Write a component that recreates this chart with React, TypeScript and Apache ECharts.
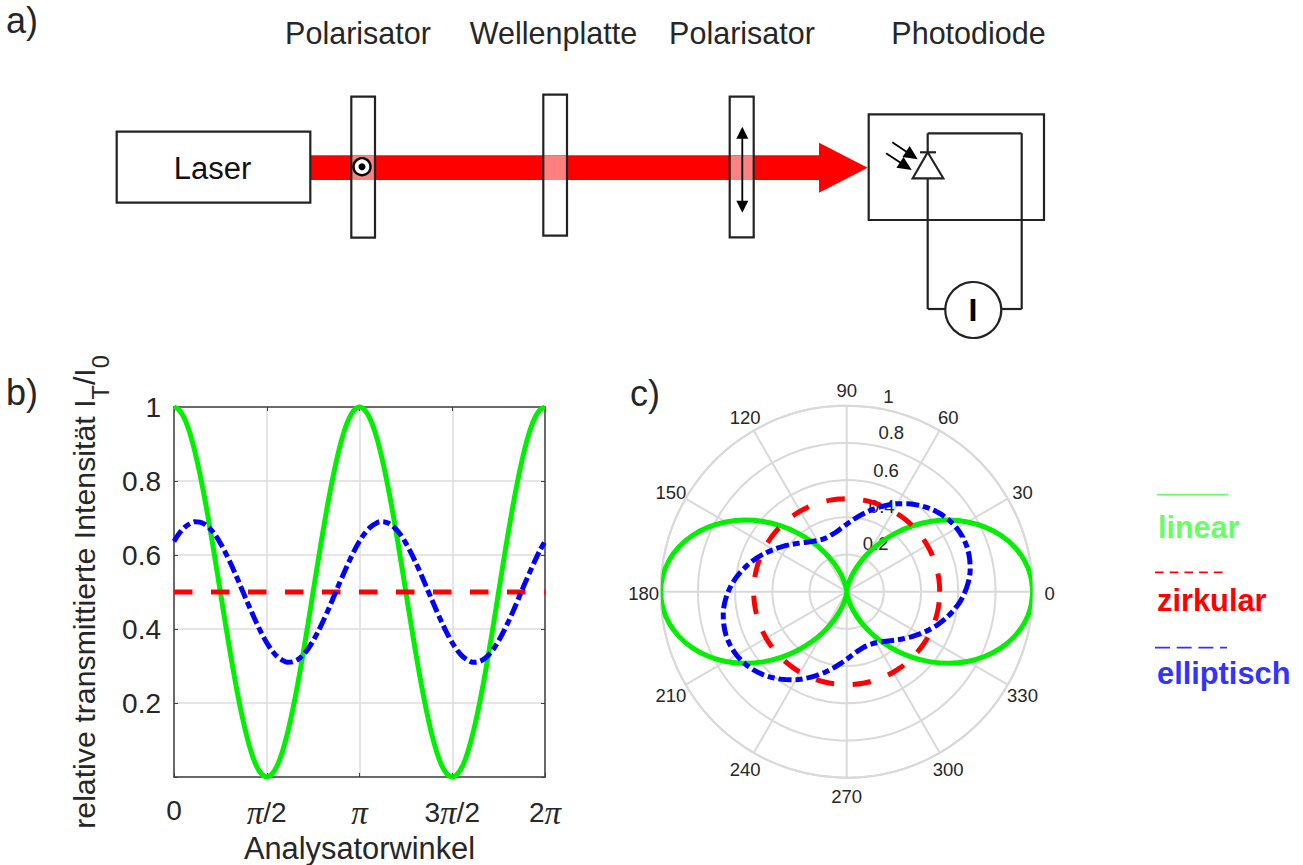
import React, { useEffect, useRef } from "react";
import * as echarts from "echarts";

const angles = [0,5,10,15,20,25,30,35,40,45,50,55,60,65,70,75,80,85,90,95,100,105,110,115,120,125,130,135,140,145,150,155,160,165,170,175,180,185,190,195,200,205,210,215,220,225,230,235,240,245,250,255,260,265,270,275,280,285,290,295,300,305,310,315,320,325,330,335,340,345,350,355,360];
const linearValues = [1,.992,.97,.933,.883,.821,.75,.671,.587,.5,.413,.329,.25,.179,.117,.067,.03,.008,0,.008,.03,.067,.117,.179,.25,.329,.413,.5,.587,.671,.75,.821,.883,.933,.97,.992,1,.992,.97,.933,.883,.821,.75,.671,.587,.5,.413,.329,.25,.179,.117,.067,.03,.008,0,.008,.03,.067,.117,.179,.25,.329,.413,.5,.587,.671,.75,.821,.883,.933,.97,.992,1];
const circularValues = [.5,.5,.5,.5,.5,.5,.5,.5,.5,.5,.5,.5,.5,.5,.5,.5,.5,.5,.5,.5,.5,.5,.5,.5,.5,.5,.5,.5,.5,.5,.5,.5,.5,.5,.5,.5,.5,.5,.5,.5,.5,.5,.5,.5,.5,.5,.5,.5,.5,.5,.5,.5,.5,.5,.5,.5,.5,.5,.5,.5,.5,.5,.5,.5,.5,.5,.5,.5,.5,.5,.5,.5,.5];
const ellipticValues = [.637,.658,.674,.684,.69,.689,.683,.671,.654,.632,.606,.577,.546,.513,.48,.448,.417,.388,.363,.342,.326,.316,.31,.311,.317,.329,.346,.368,.394,.423,.454,.487,.52,.552,.583,.612,.637,.658,.674,.684,.69,.689,.683,.671,.654,.632,.606,.577,.546,.513,.48,.448,.417,.388,.363,.342,.326,.316,.31,.311,.317,.329,.346,.368,.394,.423,.454,.487,.52,.552,.583,.612,.637];
const xTickLabels = ["0", "{p|π}/2", "{p|π}", "3{p|π}/2", "2{p|π}"];
const angleTicks = [0, 30, 60, 90, 120, 150, 180, 210, 240, 270, 300, 330];
const radiusLabels = ["0.2", "0.4", "0.6", "0.8", "1"];
const radiusLabelX = [875.7, 881.7, 886, 891.3, 888.3];
const radiusLabelY = [543.3, 506.7, 470, 432.7, 396];
const componentLabels = ["Polarisator", "Wellenplatte", "Polarisator", "Photodiode"];
const componentLabelX = [358, 553.5, 742, 968.5];
const legendNames = ["linear", "zirkular", "elliptisch"];

const GREEN = "#00f000";
const RED = "#ff0000";
const BLUE = "#0000ff";
const TEXT = "#262626";
const FONT = "'Liberation Sans', Arial, sans-serif";
const BLK = "#222222";

function rect(x: number, y: number, w: number, h: number, fill = "transparent", stroke: string | null = BLK, lw = 2.2) {
  return { type: "rect", shape: { x, y, width: w, height: h }, style: { fill, stroke: stroke ?? "transparent", lineWidth: stroke ? lw : 0 } };
}
function line(x1: number, y1: number, x2: number, y2: number, lw = 2.2, stroke = BLK, lineDash?: number[]) {
  return { type: "line", shape: { x1, y1, x2, y2 }, style: { stroke, lineWidth: lw, lineDash } };
}
function poly(points: number[][], fill: string, stroke = "transparent", lw = 0) {
  return { type: "polygon", shape: { points }, style: { fill, stroke, lineWidth: lw } };
}
function text(t: string, x: number, y: number, size: number, extra: any = {}) {
  return { type: "text", x, y, style: { text: t, font: `${extra.weight ?? "normal"} ${size}px ${FONT}`, fill: extra.fill ?? TEXT, textAlign: extra.align ?? "center", textVerticalAlign: "middle" }, z: extra.z ?? 1 };
}
function arrowHead(x1: number, y1: number, x2: number, y2: number, len: number, half: number) {
  const d = Math.hypot(x2 - x1, y2 - y1);
  const ux = (x2 - x1) / d, uy = (y2 - y1) / d;
  const bx = x2 - ux * len, by = y2 - uy * len;
  return poly([[x2, y2], [bx - uy * half, by + ux * half], [bx + uy * half, by - ux * half]], "#000000");
}

export default function App() {
  const ref = useRef<HTMLDivElement>(null);
  useEffect(() => {
    document.body.style.margin = "0";
    const chart = echarts.init(ref.current!, null, { renderer: "svg" });
    const cart = (vals: number[]) => angles.map((a, i) => [a, vals[i]]);
    const pol = (vals: number[]) => angles.map((a, i) => [vals[i], a]);
    const greenStyle = { color: GREEN, width: 5 };
    const redStyle = { color: RED, width: 5, type: [18.5, 18.5] };
    const blueStyle = { color: BLUE, width: 5, type: [13, 4, 7, 4] };
    const common = { showSymbol: false, symbol: "none", silent: true, clip: false };
    const xAxisBase = { type: "value", min: 0, max: 360, interval: 90 };
    const yAxisBase = { type: "value", min: 0, max: 1, interval: 0.2 };
    const boxLine = { show: true, onZero: false, lineStyle: { color: "#404040", width: 1.5 } };
    const tick = { show: true, inside: true, length: 4, lineStyle: { color: "#404040", width: 1 } };
    const richP = { p: { fontFamily: "'Liberation Serif', serif", fontStyle: "italic", fontSize: 33, color: TEXT } };

    const diagram: any[] = [
      rect(310, 155.3, 509, 24.7, RED, null),
      poly([[819, 142.7], [867.7, 167.7], [819, 192.7]], RED),
      rect(351.3, 155.3, 23.7, 24.7, "#ff8080", null),
      rect(543.3, 155.3, 23.7, 24.7, "#ff8080", null),
      rect(729.7, 155.3, 24, 24.7, "#ff8080", null),
      rect(116.7, 131.7, 193.6, 71, "#ffffff"),
      rect(351.3, 96.7, 23.7, 141),
      rect(543.3, 94.7, 23.7, 141),
      rect(729.7, 96.7, 24, 140.6),
      { type: "circle", shape: { cx: 362, cy: 166.7, r: 8.5 }, style: { fill: "#ffffff", stroke: "#000000", lineWidth: 2.4 } },
      { type: "circle", shape: { cx: 362, cy: 166.7, r: 3.5 }, style: { fill: "#000000" } },
      line(742.3, 135, 742.3, 205, 1.8, "#000000"),
      arrowHead(742.3, 140, 742.3, 126.7, 12, 6),
      arrowHead(742.3, 200, 742.3, 212.7, 12, 6),
      rect(868.7, 114.3, 175.3, 105.7),
      line(927.7, 133.3, 1021.7, 133.3),
      line(927.7, 133.3, 927.7, 152.3),
      line(1021.7, 133.3, 1021.7, 309),
      line(927.7, 178.3, 927.7, 309),
      line(927.7, 309, 945.3, 309),
      line(1001.3, 309, 1021.7, 309),
      { type: "circle", shape: { cx: 973.3, cy: 310, r: 28 }, style: { fill: "#ffffff", stroke: BLK, lineWidth: 2.2 } },
      poly([[927.7, 152.3], [912.7, 178.3], [943.3, 178.3]], "#ffffff", BLK, 2.2),
      line(920, 152.3, 936, 152.3),
      line(892.3, 142.3, 912, 155.5, 1.8, "#000000"),
      arrowHead(892.3, 142.3, 917.7, 159.3, 14, 6.5),
      line(886, 153.3, 906, 166.3, 1.8, "#000000"),
      arrowHead(886, 153.3, 911.7, 170, 14, 6.5),
      text("I", 973, 310, 32, { weight: "bold", fill: "#000000" }),
      text("Laser", 212.5, 168, 31, { fill: "#111111" }),
      ...componentLabels.map((t, i) => text(t, componentLabelX[i], 33, 30.5)),
      text("a)", 22, 20, 36),
      text("b)", 22, 392, 36),
      text("c)", 645, 393, 36),
      line(1157, 494.7, 1228, 494.7, 1.8, "#66ff66"),
      text(legendNames[0], 1158, 527, 30.5, { weight: "bold", fill: "#66ff66", align: "left" }),
      line(1155, 572.3, 1227, 572.3, 1.8, RED, [8.7, 6]),
      text(legendNames[1], 1157, 600, 30.8, { weight: "bold", fill: RED, align: "left" }),
      line(1155, 647.7, 1227, 647.7, 1.8, "#3333ff", [15, 6.7]),
      text(legendNames[2], 1157, 673, 30.8, { weight: "bold", fill: "#3333ff", align: "left" }),
      ...angleTicks.map((a) =>
        text(String(a), 846.7 + 203 * Math.cos((a * Math.PI) / 180), 593.5 - 203 * Math.sin((a * Math.PI) / 180), 18.5)
      ),
      ...radiusLabels.map((t, i) => text(t, radiusLabelX[i], radiusLabelY[i], 18.5)),
    ];

    chart.setOption({
      animation: false,
      backgroundColor: "#ffffff",
      textStyle: { fontFamily: FONT },
      grid: { left: 174, right: 758, top: 407, bottom: 88, show: false },
      xAxis: [
        {
          ...xAxisBase,
          position: "bottom",
          name: "Analysatorwinkel",
          nameLocation: "middle",
          nameGap: 56,
          nameTextStyle: { fontSize: 30.8, color: TEXT, fontFamily: FONT },
          axisLine: boxLine,
          axisTick: tick,
          splitLine: { show: true, lineStyle: { color: "#dddddd", width: 1.5 } },
          axisLabel: {
            fontSize: 28, color: TEXT, margin: 19, fontFamily: FONT, rich: richP,
            formatter: (v: number) => xTickLabels[Math.round(v / 90)],
          },
        },
        { ...xAxisBase, position: "top", axisLine: boxLine, axisTick: tick, axisLabel: { show: false }, splitLine: { show: false } },
      ],
      yAxis: [
        {
          ...yAxisBase,
          position: "left",
          name: "relative transmittierte Intensität I{s|T}/I{s|0}",
          nameLocation: "middle",
          nameGap: 61,
          nameTextStyle: {
            fontSize: 30.3, color: TEXT, fontFamily: FONT,
            rich: { s: { fontSize: 23.5, color: TEXT, fontFamily: FONT, verticalAlign: "bottom", lineHeight: 58 } },
          },
          axisLine: boxLine,
          axisTick: tick,
          splitLine: { show: true, lineStyle: { color: "#dddddd", width: 1.5 } },
          axisLabel: { fontSize: 28, color: TEXT, margin: 13, fontFamily: FONT, formatter: (v: number) => (v === 0 ? "" : String(v)) },
        },
        { ...yAxisBase, position: "right", axisLine: boxLine, axisTick: tick, axisLabel: { show: false }, splitLine: { show: false } },
      ],
      polar: { center: [846.7, 591.7], radius: 186 },
      angleAxis: {
        type: "value", min: 0, max: 360, interval: 30, startAngle: 0, clockwise: false,
        axisLine: { show: true, lineStyle: { color: "#d9d9d9", width: 2 } },
        axisTick: { show: false },
        axisLabel: { show: false },
        splitLine: { show: true, lineStyle: { color: "#d9d9d9", width: 2 } },
      },
      radiusAxis: {
        type: "value", min: 0, max: 1, interval: 0.2,
        axisLine: { show: false }, axisTick: { show: false }, axisLabel: { show: false },
        splitLine: { show: true, lineStyle: { color: "#d9d9d9", width: 2 } },
      },
      graphic: { elements: diagram },
      series: [
        { ...common, type: "line", name: "linear", data: cart(linearValues), smooth: 0.3, lineStyle: greenStyle },
        { ...common, type: "line", name: "zirkular", data: cart(circularValues), lineStyle: redStyle },
        { ...common, type: "line", name: "elliptisch", data: cart(ellipticValues), smooth: 0.3, lineStyle: blueStyle },
        { ...common, type: "line", name: "linear", coordinateSystem: "polar", data: pol(linearValues), smooth: 0.3, lineStyle: greenStyle },
        { ...common, type: "line", name: "zirkular", coordinateSystem: "polar", data: pol(circularValues), smooth: 0.3, lineStyle: redStyle },
        { ...common, type: "line", name: "elliptisch", coordinateSystem: "polar", data: pol(ellipticValues), smooth: 0.3, lineStyle: blueStyle },
      ],
    });
    return () => chart.dispose();
  }, []);
  return <div ref={ref} style={{ position: "absolute", left: 0, top: 0, width: 1303, height: 865 }} />;
}
